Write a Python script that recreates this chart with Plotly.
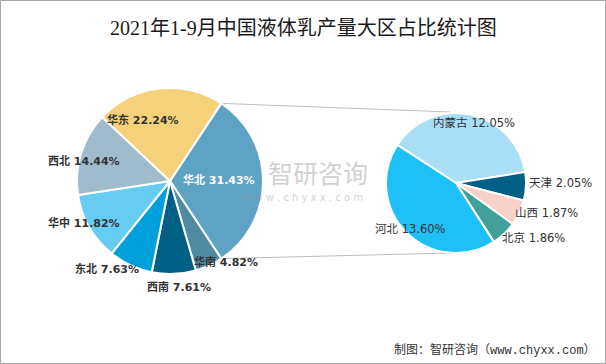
import math
import plotly.graph_objects as go

# ---------------- data ----------------
regions = ["华北", "华南", "西南", "东北", "华中", "西北", "华东"]
region_values = [31.43, 4.82, 7.61, 7.63, 11.82, 14.44, 22.24]
region_colors = ["#5FA3C4", "#4F8BA3", "#005F84", "#00A0DC", "#66CCF2", "#A0BCCC", "#F5D27A"]

provinces = ["内蒙古", "天津", "山西", "北京", "河北"]
province_values = [12.05, 2.05, 1.87, 1.86, 13.60]
province_colors = ["#A8DFF7", "#005F84", "#F8D1CB", "#40A09A", "#1EC0F8"]

title_text = "2021年1-9月中国液体乳产量大区占比统计图"
source_text = "制图：智研咨询（www.chyxx.com）"

# ---------------- layout geometry (pixels) ----------------
W, H = 606, 364
left_c, left_r = (170, 181), 93
right_c, right_r = (456, 183), 70
left_rot = 33.4
right_rot = -57

# label anchor centres (pixels)
region_label_pos = [(219, 180), (226, 262), (179, 287), (107, 269), (84, 223), (84, 161), (143, 120)]
province_label_pos = [(474, 123), (560, 183), (546, 213), (533, 238), (410, 229)]

def px(x):
    return x / W

def py(y):
    return 1 - y / H

def dom(c, r):
    return dict(x=[px(c[0] - r), px(c[0] + r)], y=[py(c[1] + r), py(c[1] - r)])

fig = go.Figure()
fig.add_trace(go.Pie(
    labels=regions, values=region_values, sort=False, direction="clockwise",
    rotation=left_rot, domain=dom(left_c, left_r), textinfo="none",
    marker=dict(colors=region_colors, line=dict(color="white", width=2)),
    hoverinfo="label+value", showlegend=False,
))
fig.add_trace(go.Pie(
    labels=provinces, values=province_values, sort=False, direction="clockwise",
    rotation=right_rot, domain=dom(right_c, right_r), textinfo="none",
    marker=dict(colors=province_colors, line=dict(color="white", width=2)),
    hoverinfo="label+value", showlegend=False,
))

def ann(x, y, text, font, xanchor="center"):
    return dict(x=px(x), y=py(y), xref="paper", yref="paper", showarrow=False,
                xanchor=xanchor, yanchor="middle", text=text, font=font)

annotations = []
lab_font = "DejaVu Sans, Noto Sans CJK SC, sans-serif"
for name, v, (x, y) in zip(regions, region_values, region_label_pos):
    col = "white" if name == "华北" else "#333333"
    annotations.append(ann(x, y, f"<b>{name} {v:.2f}%</b>", dict(family=lab_font, size=11, color=col)))
for name, v, (x, y) in zip(provinces, province_values, province_label_pos):
    annotations.append(ann(x, y, f"{name} {v:.2f}%", dict(family=lab_font, size=11.5, color="#333333")))

annotations.append(ann(303, 28, title_text,
                       dict(family="Liberation Serif, Noto Sans CJK SC, serif", size=20, color="#1a1a1a")))
annotations.append(ann(598, 350, source_text,
                       dict(family="Liberation Mono, Noto Sans CJK SC, monospace", size=12, color="#333333"),
                       xanchor="right"))
# watermark
annotations.append(ann(318, 172, "智研咨询",
                       dict(family="Noto Sans CJK SC", size=25, color="rgba(150,150,150,0.45)")))
annotations.append(ann(303, 198, "w w w . c h y x x . c o m",
                       dict(family="DejaVu Sans", size=10, color="rgba(150,150,150,0.45)")))

# connector lines between the split slice and the secondary pie
frac = region_values[0] / sum(region_values)
a1 = math.radians(left_rot)
a2 = math.radians(left_rot + 360 * frac)
p_top = (left_c[0] + left_r * math.sin(a1), left_c[1] - left_r * math.cos(a1))
p_bot = (left_c[0] + left_r * math.sin(a2), left_c[1] - left_r * math.cos(a2))
q_top = (right_c[0] - 6, right_c[1] - right_r - 1)
q_bot = (right_c[0] - 4, right_c[1] + right_r)
shapes = [
    dict(type="line", xref="paper", yref="paper", x0=px(p_top[0]), y0=py(p_top[1]),
         x1=px(q_top[0]), y1=py(q_top[1]), line=dict(color="#BFBFBF", width=1), layer="below"),
    dict(type="line", xref="paper", yref="paper", x0=px(p_bot[0]), y0=py(p_bot[1]),
         x1=px(q_bot[0]), y1=py(q_bot[1]), line=dict(color="#BFBFBF", width=1), layer="below"),
    dict(type="rect", xref="paper", yref="paper", x0=px(0.5), y0=py(H - 0.5), x1=px(W - 0.5), y1=py(0.5),
         line=dict(color="#A6A6A6", width=1)),
]

fig.update_layout(
    width=W, height=H, margin=dict(l=0, r=0, t=0, b=0),
    paper_bgcolor="white", plot_bgcolor="white",
    annotations=annotations, shapes=shapes,
)
fig.write_html("out.html", config={"displayModeBar": False},
               post_script="document.body.style.margin='0';document.body.style.padding='0';")
